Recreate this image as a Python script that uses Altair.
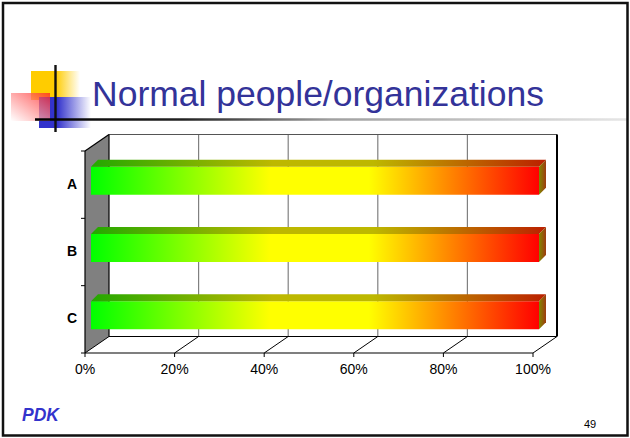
import altair as alt
import pandas as pd

# ---- chart content -------------------------------------------------------
categories = ["A", "B", "C"]
shares = [100, 100, 100]
tick_values = [0, 20, 40, 60, 80, 100]
tick_labels = ["0%", "20%", "40%", "60%", "80%", "100%"]
row_ticks = [0, 1, 2, 3]
title_text = "Normal people/organizations"
footer_text = "PDK"
page_number = "49"

# ---- canvas and oblique projection ---------------------------------------
W, H = 630, 438
PX_PER_PCT = 4.48      # horizontal pixels per percentage point
PX_PER_ROW = 67.33     # vertical pixels per category row
ORIGIN_X, ORIGIN_Y = 85, 353

X_DOMAIN = [-ORIGIN_X / PX_PER_PCT, (W - ORIGIN_X) / PX_PER_PCT]
Y_DOMAIN = [-(H - ORIGIN_Y) / PX_PER_ROW, ORIGIN_Y / PX_PER_ROW]

WALL_DX, WALL_DY = 24 / PX_PER_PCT, 16.5 / PX_PER_ROW   # full depth of the box
BAR_DX, BAR_DY = 6 / PX_PER_PCT, 4 / PX_PER_ROW         # depth of bar front face
DEPTH_X, DEPTH_Y = 7 / PX_PER_PCT, 7 / PX_PER_ROW       # thickness of the bars
HALF_H = 14 / PX_PER_ROW
N_ROWS = len(categories)
FONT = "Liberation Sans"

XS = alt.Scale(domain=X_DOMAIN, range=[0, W], nice=False, zero=False)
YS = alt.Scale(domain=Y_DOMAIN, range=[H, 0], nice=False, zero=False)


def X(field):
    return alt.X(field, type="quantitative", scale=XS, axis=None)


def Y(field):
    return alt.Y(field, type="quantitative", scale=YS, axis=None)


def grad(stops, x1=0, y1=0, x2=1, y2=0):
    return alt.LinearGradient(
        gradient="linear",
        stops=[alt.GradientStop(offset=o, color=c) for o, c in stops],
        x1=x1, y1=y1, x2=x2, y2=y2,
    )


def segments(rows, color, width):
    df = pd.DataFrame(rows, columns=["x", "y", "x2", "y2"])
    return alt.Chart(df).mark_rule(color=color, strokeWidth=width).encode(
        x=X("x"), y=Y("y"), x2="x2:Q", y2="y2:Q"
    )


# ---- box: side wall, back wall, floor ------------------------------------
side_wall = alt.Chart(pd.DataFrame({
    "x": [0, WALL_DX], "y": [0, WALL_DY], "y2": [N_ROWS, N_ROWS + WALL_DY]
})).mark_area(orient="vertical", fill="#808080", stroke=None).encode(
    x=X("x"), y=Y("y"), y2="y2:Q"
)

grid = segments(
    [(v + WALL_DX, WALL_DY, v + WALL_DX, N_ROWS + WALL_DY) for v in tick_values[1:-1]],
    "#808080", 1.2,
)
floor_lines = segments(
    [(v, 0, v + WALL_DX, WALL_DY) for v in tick_values], "#000000", 1
)
box_edges = segments(
    [
        (0, 0, 100, 0),                                           # front floor edge
        (WALL_DX, WALL_DY, 100 + WALL_DX, WALL_DY),               # back floor edge
        (0, 0, 0, N_ROWS),                                        # front-left edge
        (0, N_ROWS, WALL_DX, N_ROWS + WALL_DY),                   # wall top edge
        (WALL_DX, WALL_DY, WALL_DX, N_ROWS + WALL_DY),            # back-left edge
    ],
    "#000000", 1.2,
)
back_top = segments(
    [(WALL_DX, N_ROWS + WALL_DY, 100 + WALL_DX, N_ROWS + WALL_DY)], "#555555", 1.2
)
back_right = segments(
    [(100 + WALL_DX, WALL_DY, 100 + WALL_DX, N_ROWS + WALL_DY)], "#000000", 2
)

tick_len_x = 4 / PX_PER_PCT
tick_len_y = 4 / PX_PER_ROW
left_ticks = segments([(0, r, -tick_len_x, r) for r in row_ticks], "#000000", 1)
bottom_ticks = segments([(v, 0, v, -tick_len_y) for v in tick_values], "#000000", 1)

x_labels = alt.Chart(pd.DataFrame({
    "x": tick_values, "y": [-17 / PX_PER_ROW] * len(tick_values), "t": tick_labels
})).mark_text(font=FONT, fontSize=14, color="#000000", baseline="middle").encode(
    x=X("x"), y=Y("y"), text="t:N"
)

row_centers = [N_ROWS - i - 0.5 for i in range(N_ROWS)]
cat_labels = alt.Chart(pd.DataFrame({
    "x": [-13 / PX_PER_PCT] * N_ROWS, "y": row_centers, "t": categories
})).mark_text(font=FONT, fontSize=14, fontWeight="bold", color="#000000",
              baseline="middle").encode(x=X("x"), y=Y("y"), text="t:N")

# ---- 3-D bars ------------------------------------------------------------
front_rows, top_rows, side_rows = [], [], []
for cat, val, c in zip(categories, shares, row_centers):
    mid = c + BAR_DY
    lo, hi = mid - HALF_H, mid + HALF_H
    x0, x1 = BAR_DX, BAR_DX + val
    front_rows.append({"cat": cat, "x": x0, "x2": x1, "y": lo, "y2": hi})
    top_rows += [
        {"cat": cat, "y": hi, "x": x0, "x2": x1},
        {"cat": cat, "y": hi + DEPTH_Y, "x": x0 + DEPTH_X, "x2": x1 + DEPTH_X},
    ]
    side_rows += [
        {"cat": cat, "x": x1, "y": lo, "y2": hi},
        {"cat": cat, "x": x1 + DEPTH_X, "y": lo + DEPTH_Y, "y2": hi + DEPTH_Y},
    ]

front_fill = grad([(0, "#00FF00"), (0.4, "#FFFF00"), (0.62, "#FFFF00"), (1, "#FF0000")])
top_fill = grad([(0, "#22A800"), (0.4, "#BDB800"), (0.62, "#BDB800"), (1, "#BB2000")])
side_fill = grad([(0, "#808800"), (1, "#A03A10")])

bar_front = alt.Chart(pd.DataFrame(front_rows)).mark_rect(
    fill=front_fill, stroke=None
).encode(x=X("x"), x2="x2:Q", y=Y("y"), y2="y2:Q")

bar_top = alt.Chart(pd.DataFrame(top_rows)).mark_area(
    orient="horizontal", fill=top_fill, stroke=None
).encode(y=Y("y"), x=X("x"), x2="x2:Q", detail="cat:N")

bar_side = alt.Chart(pd.DataFrame(side_rows)).mark_area(
    orient="vertical", fill=side_fill, stroke=None
).encode(x=X("x"), y=Y("y"), y2="y2:Q", detail="cat:N")

# ---- slide decoration ----------------------------------------------------
one = pd.DataFrame({"k": [0]})


def box(x, x2, y, y2, **mark):
    return alt.Chart(one).mark_rect(**mark).encode(
        x=alt.value(x), x2=alt.value(x2), y=alt.value(y), y2=alt.value(y2)
    )


frame = box(3, 627.5, 3, 435.5, fill=None, stroke="#111111", strokeWidth=2.5)
yellow = box(31, 80, 71, 100, fill=grad([(0, "#FFCC00"), (0.5, "#FFCC00"), (1, "#FFFFFF")]))
blue = box(39, 91, 97, 128, fill=grad([(0, "#3333CC"), (0.35, "#3333CC"), (1, "#FFFFFF")]))
red = box(11, 50, 93, 121, opacity=0.75,
          fill=grad([(0, "#FF2020"), (1, "#FFFFFF")], x1=1, y1=0, x2=0, y2=1))
v_bar = box(54.3, 56.7, 65, 132, fill="#111111")
h_bar = box(35, 628, 118.3, 120.8,
            fill=grad([(0, "#000000"), (0.25, "#222222"), (0.5, "#A0A0A0"), (1, "#E6E6E6")]))

title = alt.Chart(one).mark_text(
    text=title_text, font=FONT, fontSize=35.5, color="#333399",
    align="left", baseline="alphabetic"
).encode(x=alt.value(92), y=alt.value(106))

footer = alt.Chart(one).mark_text(
    text=footer_text, font=FONT, fontSize=17.5, fontWeight="bold", fontStyle="italic",
    color="#3333CC", align="left", baseline="alphabetic"
).encode(x=alt.value(22), y=alt.value(421))

page = alt.Chart(one).mark_text(
    text=page_number, font=FONT, fontSize=11, color="#000000",
    align="center", baseline="alphabetic"
).encode(x=alt.value(590), y=alt.value(428))

chart = alt.layer(
    side_wall, grid, back_top, floor_lines, box_edges, back_right,
    left_ticks, bottom_ticks, x_labels, cat_labels,
    bar_front, bar_top, bar_side,
    yellow, blue, red, v_bar, h_bar, title, footer, page, frame,
).properties(
    width=W, height=H, padding=0, background="#FFFFFF",
    autosize=alt.AutoSizeParams(type="none"),
).configure_view(stroke=None)

chart.save("out.html", embed_options={"renderer": "svg", "actions": False})
